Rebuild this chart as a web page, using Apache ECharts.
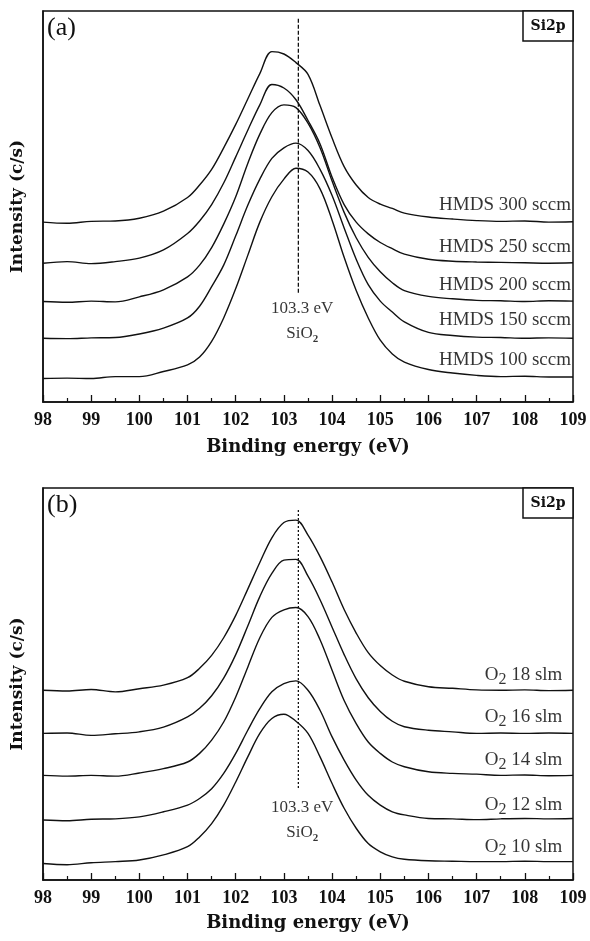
<!DOCTYPE html>
<html>
<head>
<meta charset="utf-8">
<script src="https://cdn.jsdelivr.net/npm/echarts@6/dist/echarts.min.js"></script>
<style>
  html, body { margin: 0; padding: 0; background: #fff; }
  #chart { width: 590px; height: 941px; }
</style>
</head>
<body>
<div id="chart"></div>
<script>
// binding energy grid (eV), shared by every spectrum
const energy = [98, 98.5, 99, 99.5, 100, 100.5, 101, 101.25, 101.5, 101.75, 102, 102.25, 102.5, 102.75, 103, 103.25,
                103.5, 103.75, 104, 104.25, 104.5, 104.75, 105, 105.25, 105.5, 106, 106.5, 107, 107.5, 108, 108.5, 109];

// panel (a): HMDS flow, stacked intensities (a.u.)
const hmds300 = [46.0, 45.7, 46.2, 46.3, 47.0, 48.8, 52.3, 55.5, 59.5, 65.0, 71.0, 77.5, 84.0, 89.6, 89.0, 86.8,
                 83.8, 75.8, 67.5, 60.2, 55.5, 52.3, 50.6, 49.5, 48.3, 47.3, 46.8, 46.4, 46.2, 46.3, 46.0, 46.1];
const hmds250 = [35.5, 35.9, 35.4, 35.9, 36.8, 38.9, 43.1, 46.3, 50.5, 56.0, 62.7, 69.5, 76.0, 81.2, 80.3, 77.3,
                 72.0, 66.0, 57.5, 50.5, 46.0, 43.0, 40.8, 39.2, 37.8, 36.5, 36.0, 35.8, 35.7, 35.6, 35.5, 35.6];
const hmds200 = [25.7, 25.5, 25.8, 25.6, 26.9, 28.7, 32.0, 35.0, 39.5, 45.5, 52.5, 61.0, 68.5, 74.0, 76.0, 75.3,
                 71.3, 65.0, 56.5, 48.5, 42.0, 37.0, 33.3, 30.5, 28.5, 27.0, 26.4, 26.0, 25.9, 25.7, 25.9, 25.8];
const hmds150 = [16.3, 16.2, 16.4, 16.5, 17.4, 18.9, 21.5, 24.5, 29.5, 35.0, 42.5, 50.3, 57.0, 62.3, 65.0, 66.2,
                 64.3, 59.5, 52.8, 44.5, 36.5, 30.0, 25.8, 23.0, 20.5, 17.8, 17.0, 16.6, 16.5, 16.3, 16.4, 16.3];
const hmds100 = [6.0, 6.1, 6.0, 6.5, 6.5, 7.8, 9.5, 11.5, 15.5, 21.5, 29.0, 37.5, 46.0, 52.5, 57.0, 59.8,
                 58.8, 54.5, 46.5, 37.0, 28.5, 21.5, 15.8, 12.3, 10.2, 8.3, 7.4, 6.8, 6.5, 6.6, 6.4, 6.4];

// panel (b): O2 flow
const o2_18 = [48.4, 48.2, 48.6, 48.0, 48.8, 49.7, 51.6, 54.0, 57.3, 61.8, 67.5, 74.2, 81.0, 87.3, 91.2, 91.8,
               88.0, 82.5, 76.0, 69.0, 63.0, 58.0, 54.7, 52.3, 50.7, 49.3, 48.9, 48.5, 48.4, 48.5, 48.3, 48.4];
const o2_16 = [37.4, 37.5, 36.9, 37.3, 37.8, 39.0, 41.6, 43.8, 47.0, 51.5, 57.5, 64.8, 72.3, 78.2, 81.6, 81.8,
               77.5, 71.5, 64.5, 57.5, 51.3, 46.5, 43.0, 40.5, 39.1, 38.2, 37.8, 37.4, 37.5, 37.4, 37.5, 37.4];
const o2_14 = [26.7, 26.5, 26.7, 26.5, 27.3, 28.4, 30.1, 32.3, 35.7, 40.3, 46.7, 54.3, 61.8, 67.0, 68.9, 69.5,
               67.2, 61.3, 53.5, 45.8, 39.9, 35.2, 32.3, 30.1, 28.9, 27.6, 27.2, 27.0, 26.7, 26.8, 26.6, 26.7];
const o2_12 = [15.3, 15.1, 15.5, 15.6, 16.1, 17.4, 19.1, 20.8, 23.3, 27.2, 32.3, 38.2, 43.7, 48.0, 50.1, 50.8,
               48.4, 43.3, 36.5, 30.6, 25.5, 21.6, 19.1, 17.4, 16.6, 15.7, 15.6, 15.4, 15.6, 15.7, 15.6, 15.7];
const o2_10 = [4.2, 3.9, 4.4, 4.7, 5.1, 6.4, 8.5, 11.0, 14.4, 19.1, 25.0, 31.4, 37.4, 41.2, 42.3, 40.5,
               37.4, 31.4, 24.6, 18.3, 13.2, 9.3, 7.2, 5.9, 5.3, 4.9, 4.8, 4.7, 4.7, 4.8, 4.7, 4.7];

// curve labels and where they sit (energy, intensity)
const hmdsNames = ['HMDS 300 sccm', 'HMDS 250 sccm', 'HMDS 200 sccm', 'HMDS 150 sccm', 'HMDS 100 sccm'];
const hmdsLabelY = [50.4, 39.7, 29.9, 20.9, 10.7];
const o2Flows = ['18', '16', '14', '12', '10'];
const o2LabelY = [52.2, 41.6, 30.6, 19.1, 8.5];
const o2LabelX = 108.82;

// SiO2 reference line at 103.3 eV
const peakRef = 103.3;
const refLineA = [98, 27.9];
const refLineB = [94.4, 23.5];
const refTextA = [103.38, 20.8];
const refTextB = [103.38, 15.3];

const ink = '#111';
const serif = 'Liberation Serif';

const chart = echarts.init(document.getElementById('chart'), null, {renderer: 'canvas'});

function pairs(ys) {
    return energy.map(function (e, i) { return [e, ys[i]]; });
}

function makeX(gridIndex, nameGap) {
    return {
        gridIndex: gridIndex,
        type: 'value',
        min: 98,
        max: 109,
        interval: 1,
        name: 'Binding energy (eV)',
        nameLocation: 'middle',
        nameGap: nameGap,
        nameTextStyle: {fontFamily: 'DejaVu Serif', fontWeight: 'bold', fontSize: 18, color: ink},
        axisLine: {show: true, lineStyle: {color: ink, width: 1.5}},
        axisTick: {show: true, inside: true, length: 7, lineStyle: {color: ink, width: 1.3}},
        minorTick: {show: true, splitNumber: 2, length: 4, lineStyle: {color: ink, width: 1.2}},
        axisLabel: {margin: 9, fontFamily: serif, fontWeight: 'bold', fontSize: 18, color: ink,
            showMinLabel: true, showMaxLabel: true},
        splitLine: {show: false}
    };
}

function makeY(gridIndex) {
    return {
        gridIndex: gridIndex,
        type: 'value',
        min: 0,
        max: 100,
        name: 'Intensity (c/s)',
        nameLocation: 'middle',
        nameGap: 17,
        nameTextStyle: {fontFamily: 'DejaVu Serif', fontWeight: 'bold', fontSize: 17, color: ink},
        axisLine: {show: true, lineStyle: {color: ink, width: 1.5}},
        axisTick: {show: false},
        axisLabel: {show: false},
        splitLine: {show: false}
    };
}

function spectrum(ys, gridIndex) {
    return {
        type: 'line',
        xAxisIndex: gridIndex,
        yAxisIndex: gridIndex,
        data: pairs(ys),
        smooth: 0.35,
        showSymbol: false,
        silent: true,
        lineStyle: {color: ink, width: 1.4}
    };
}

function refLine(ends, gridIndex, dash) {
    return {
        type: 'line',
        xAxisIndex: gridIndex,
        yAxisIndex: gridIndex,
        data: [[peakRef, ends[0]], [peakRef, ends[1]]],
        showSymbol: false,
        silent: true,
        lineStyle: {color: ink, width: 1.3, type: dash}
    };
}

const curveText = {fontFamily: serif, fontSize: 19, color: '#000'};

function tagSeries(points, gridIndex, formatter) {
    return {
        type: 'scatter',
        xAxisIndex: gridIndex,
        yAxisIndex: gridIndex,
        symbolSize: 0,
        silent: true,
        data: points,
        label: {
            show: true,
            position: 'left',
            distance: 2,
            color: '#000',
            formatter: formatter,
            rich: {
                n: curveText,
                s: {fontFamily: serif, fontSize: 16, color: '#000', padding: [9, 0, 0, 0]}
            }
        }
    };
}

function refTag(pos, gridIndex) {
    return {
        type: 'scatter',
        xAxisIndex: gridIndex,
        yAxisIndex: gridIndex,
        symbolSize: 0,
        silent: true,
        data: [pos],
        label: {
            show: true,
            position: 'inside',
            align: 'center',
            color: '#000',
            formatter: '{t|103.3 eV}\n{t|SiO}{sb|2}',
            rich: {
                t: {fontFamily: serif, fontSize: 17, color: '#000', lineHeight: 25},
                sb: {fontFamily: serif, fontSize: 11, fontWeight: 'bold', color: '#000', lineHeight: 14, padding: [11, 0, 0, 0]}
            }
        }
    };
}

const hmdsTags = hmdsNames.map(function (n, i) { return [109, hmdsLabelY[i], n]; });
const o2Tags = o2Flows.map(function (f, i) { return [o2LabelX, o2LabelY[i], f]; });

function panelMarks(top, letter) {
    return [
        {type: 'text', left: 47, top: top + 4,
            style: {text: letter, font: '26px "Liberation Serif"', fill: ink}},
        {type: 'rect', shape: {x: 523, y: top, width: 50, height: 30},
            style: {fill: '#fff', stroke: ink, lineWidth: 1.5}},
        {type: 'text', x: 548, y: top + 15,
            style: {text: 'Si2p', font: 'bold 14px "DejaVu Serif"', fill: ink, align: 'center', verticalAlign: 'middle'}}
    ];
}

const option = {
    animation: false,
    backgroundColor: '#fff',
    grid: [
        {left: 43, top: 11, width: 530, height: 391, show: true, borderColor: ink, borderWidth: 1.5},
        {left: 43, top: 488, width: 530, height: 392, show: true, borderColor: ink, borderWidth: 1.5}
    ],
    xAxis: [makeX(0, 36), makeX(1, 34)],
    yAxis: [makeY(0), makeY(1)],
    series: [
        spectrum(hmds300, 0), spectrum(hmds250, 0), spectrum(hmds200, 0), spectrum(hmds150, 0), spectrum(hmds100, 0),
        refLine(refLineA, 0, [4, 2]),
        tagSeries(hmdsTags, 0, function (p) { return '{n|' + p.data[2] + '}'; }),
        refTag(refTextA, 0),
        spectrum(o2_18, 1), spectrum(o2_16, 1), spectrum(o2_14, 1), spectrum(o2_12, 1), spectrum(o2_10, 1),
        refLine(refLineB, 1, [2, 2]),
        tagSeries(o2Tags, 1, function (p) { return '{n|O}{s|2}{n| ' + p.data[2] + ' slm}'; }),
        refTag(refTextB, 1)
    ],
    graphic: panelMarks(11, '(a)').concat(panelMarks(488, '(b)'))
};

chart.setOption(option);
</script>
</body>
</html>
